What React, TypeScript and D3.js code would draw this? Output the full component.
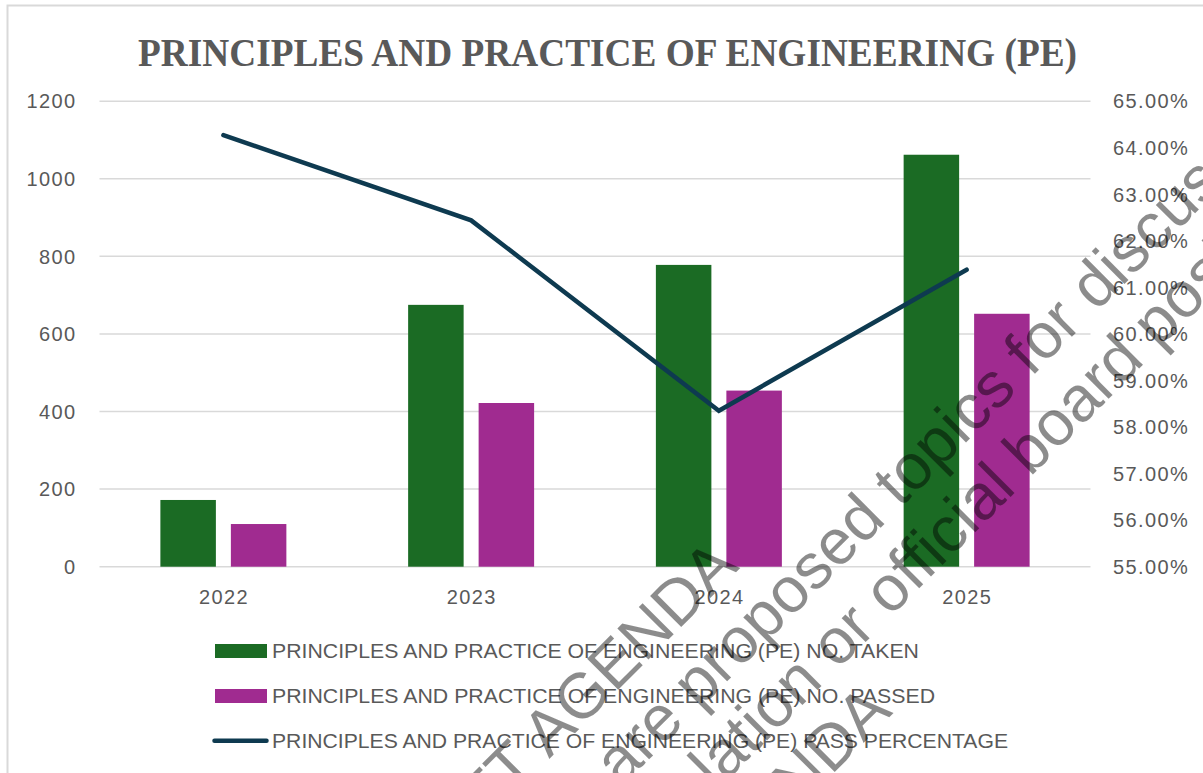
import React from "react";
import * as d3 from "d3";

const categories = ["2022", "2023", "2024", "2025"];
const taken = [172, 675, 778, 1062];
const passed = [110, 422, 454, 652];
const passPct = [64.27, 62.44, 58.35, 61.38];
const leftTicks = [0, 200, 400, 600, 800, 1000, 1200];
const rightTicks = [55, 56, 57, 58, 59, 60, 61, 62, 63, 64, 65];

const title = "PRINCIPLES AND PRACTICE OF ENGINEERING (PE)";
const seriesNames = [
  "PRINCIPLES AND PRACTICE OF ENGINEERING (PE) NO. TAKEN",
  "PRINCIPLES AND PRACTICE OF ENGINEERING (PE) NO. PASSED",
  "PRINCIPLES AND PRACTICE OF ENGINEERING (PE) PASS PERCENTAGE",
];
const watermark = [
  { text: "DRAFT AGENDA", anchor: "end", u: 122, v: 925 },
  { text: "are proposed topics for discussion", anchor: "start", u: -118, v: 996 },
  { text: "legislation", anchor: "end", u: 100, v: 1066 },
  { text: "or official board position", anchor: "start", u: 118, v: 1066 },
  { text: "DRAFT AGENDA", anchor: "end", u: 128, v: 1136 },
];

const GREEN = "#1b6b24";
const PURPLE = "#a02b90";
const NAVY = "#0e3a50";
const TEXT = "#595959";
const GRID = "#d9d9d9";
const SANS = "'Liberation Sans', Arial, sans-serif";

export default function App() {
  const W = 1203;
  const H = 773;
  const x = d3.scaleBand<string>().domain(categories).range([99.5, 1090.5]);
  const y = d3.scaleLinear().domain([0, 1200]).range([566.7, 101.2]);
  const y2 = d3.scaleLinear().domain([55, 65]).range([566.7, 101.2]);
  const bw = x.bandwidth();
  const barW = bw * 0.224;
  const gap = bw * 0.0605;
  const groupW = barW * 2 + gap;

  const line = d3
    .line<number>()
    .x((_, i) => (x(categories[i]) as number) + bw / 2)
    .y((d) => y2(d));

  const legendY = [651, 696, 741];
  const legendLen = [647, 663, 736];

  return (
    <svg
      width={W}
      height={H}
      style={{ position: "absolute", left: 0, top: 0, background: "#fff" }}
    >
      <rect x={0} y={0} width={W} height={H} fill="#fff" />
      <rect x={7.5} y={5.5} width={W + 20} height={H + 20} fill="none" stroke={GRID} strokeWidth={2} />
      <text
        x={607.5}
        y={66}
        textAnchor="middle"
        fontFamily="'Liberation Serif', 'Times New Roman', serif"
        fontWeight="bold"
        fontSize={40}
        fill={TEXT}
        textLength={939}
        lengthAdjust="spacingAndGlyphs"
      >
        {title}
      </text>

      {leftTicks.map((t) => (
        <g key={t}>
          <line x1={99.5} x2={1090.5} y1={y(t)} y2={y(t)} stroke={GRID} strokeWidth={1.5} />
          <text x={76.5} y={y(t)} dy="0.36em" textAnchor="end" fontFamily={SANS} fontSize={20} letterSpacing={1.4} fill={TEXT}>
            {t}
          </text>
        </g>
      ))}
      {rightTicks.map((t) => (
        <text key={t} x={1113} y={y2(t)} dy="0.36em" textAnchor="start" fontFamily={SANS} fontSize={20} letterSpacing={1.4} fill={TEXT}>
          {t.toFixed(2) + "%"}
        </text>
      ))}

      {categories.map((c, i) => {
        const x0 = (x(c) as number) + bw / 2 - groupW / 2;
        return (
          <g key={c}>
            <rect x={x0} y={y(taken[i])} width={barW} height={y(0) - y(taken[i])} fill={GREEN} />
            <rect x={x0 + barW + gap} y={y(passed[i])} width={barW} height={y(0) - y(passed[i])} fill={PURPLE} />
            <text x={(x(c) as number) + bw / 2 + 0.7} y={604} textAnchor="middle" fontFamily={SANS} fontSize={20} letterSpacing={1.4} fill={TEXT}>
              {c}
            </text>
          </g>
        );
      })}

      <path d={line(passPct) || ""} fill="none" stroke={NAVY} strokeWidth={4.5} strokeLinecap="round" strokeLinejoin="miter" />

      <rect x={215} y={644} width={52} height={14} fill={GREEN} />
      <rect x={215} y={689} width={52} height={14} fill={PURPLE} />
      <line x1={214.5} x2={266.5} y1={740.7} y2={740.7} stroke={NAVY} strokeWidth={4.5} strokeLinecap="round" />
      {seriesNames.map((s, i) => (
        <text
          key={s}
          x={272}
          y={legendY[i] + 6.5}
          fontFamily={SANS}
          fontSize={20}
          fill={TEXT}
          textLength={legendLen[i]}
          lengthAdjust="spacingAndGlyphs"
        >
          {s}
        </text>
      ))}

      <g transform="rotate(-45)" fontFamily={SANS} fontSize={64} fill="#000" fillOpacity={0.45}>
        {watermark.map((w, i) => (
          <text key={i} x={w.u} y={w.v} textAnchor={w.anchor as any}>
            {w.text}
          </text>
        ))}
      </g>
    </svg>
  );
}
